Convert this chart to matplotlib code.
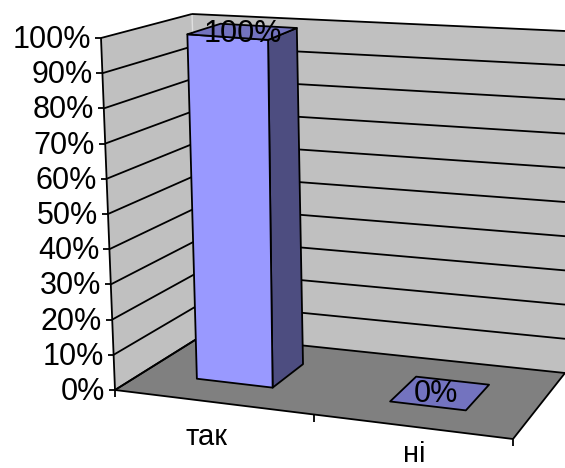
import numpy as np
import matplotlib
matplotlib.use('Agg')
import matplotlib.pyplot as plt
from matplotlib.patches import Polygon

# Chart data
categories = ['так', 'ні']
values = [100, 0]
value_ticks = [0, 10, 20, 30, 40, 50, 60, 70, 80, 90, 100]

plt.rcParams['font.family'] = ['Liberation Sans', 'DejaVu Sans']

# Corners of the 3D box in pixels: (category pos, value, depth)
floor_corners = np.array([[115, 390], [513, 439], [565, 373], [203, 335]], float)
top_corners = np.array([[101, 38], [531, 72], [565, 31], [192, 14]], float)


def project(u, v, w):
    # u: 0..1 along categories, v: 0..100 value, w: 0..1 depth
    def plane(c):
        return (c[0] * (1 - u) * (1 - w) + c[1] * u * (1 - w)
                + c[2] * u * w + c[3] * (1 - u) * w)
    return plane(floor_corners) * (1 - v / 100) + plane(top_corners) * (v / 100)


fig = plt.figure(figsize=(5.65, 4.68), dpi=100)
ax = fig.add_axes([0, 0, 1, 1])
ax.set_xlim(0, 565)
ax.set_ylim(468, 0)
ax.axis('off')


def face(points, color, z=2, edge='black', lw=1.3):
    ax.add_patch(Polygon(points, closed=True, facecolor=color, edgecolor=edge,
                         linewidth=lw, joinstyle='round', zorder=z))


def line(a, b, color='black', lw=1.3, z=2):
    ax.plot([a[0], b[0]], [a[1], b[1]], color=color, lw=lw, zorder=z,
            solid_capstyle='butt')


# Walls and floor
face([project(0, 0, 0), project(0, 100, 0), project(0, 100, 1), project(0, 0, 1)], '#C0C0C0', 1, 'none', 0)
face([project(0, 0, 1), project(0, 100, 1), project(1, 100, 1), project(1, 0, 1)], '#C0C0C0', 1, 'none', 0)
face([project(0, 0, 0), project(1, 0, 0), project(1, 0, 1), project(0, 0, 1)], '#808080', 1, 'none', 0)
line(project(0, 0, 1), project(0, 100, 1), '#E0E0E0', 1.0, 1.5)
line(project(0, 0, 0), project(1, 0, 0))
line(project(1, 0, 0), project(1, 0, 1))
line(project(0, 0, 0), project(0, 0, 1))
line(project(0, 0, 1), project(1, 0, 1))

# Gridlines and value axis
for t in value_ticks:
    line(project(0, t, 0), project(0, t, 1))
    if t > 0:
        line(project(0, t, 1), project(1, t, 1))
    p = project(0, t, 0)
    line((p[0] - 6, p[1]), p)
    ax.text(p[0] - 10, p[1] + 2, f'{t}%', ha='right', va='center',
            fontsize=22, color='black', zorder=5)
line(project(0, 0, 0), project(0, 100, 0))

# Category axis ticks
n = len(categories)
for i in range(n + 1):
    p = project(i / n, 0, 0)
    line(p, (p[0], p[1] + 7))

# Bars
u_centers = [0.237, 0.737]
half_u = 0.098
w0, w1 = 0.32, 0.72
label_offsets = [(243, 34), (436, 394)]
cat_pos = [(206, 437), (414, 454)]
for i, val in enumerate(values):
    u0, u1 = u_centers[i] - half_u, u_centers[i] + half_u
    if val > 0:
        face([project(u1, 0, w0), project(u1, val, w0), project(u1, val, w1), project(u1, 0, w1)], '#4D4D80', 3)
        face([project(u0, 0, w0), project(u1, 0, w0), project(u1, val, w0), project(u0, val, w0)], '#9999FF', 3)
    face([project(u0, val, w0), project(u1, val, w0), project(u1, val, w1), project(u0, val, w1)], '#7373BF', 3)
    ax.text(label_offsets[i][0], label_offsets[i][1], f'{val}%', ha='center', va='center',
            fontsize=22, color='black', zorder=6)
    ax.text(cat_pos[i][0], cat_pos[i][1], categories[i], ha='center', va='center',
            fontsize=21, color='black', zorder=6)

fig.savefig('out.png', dpi=100)
